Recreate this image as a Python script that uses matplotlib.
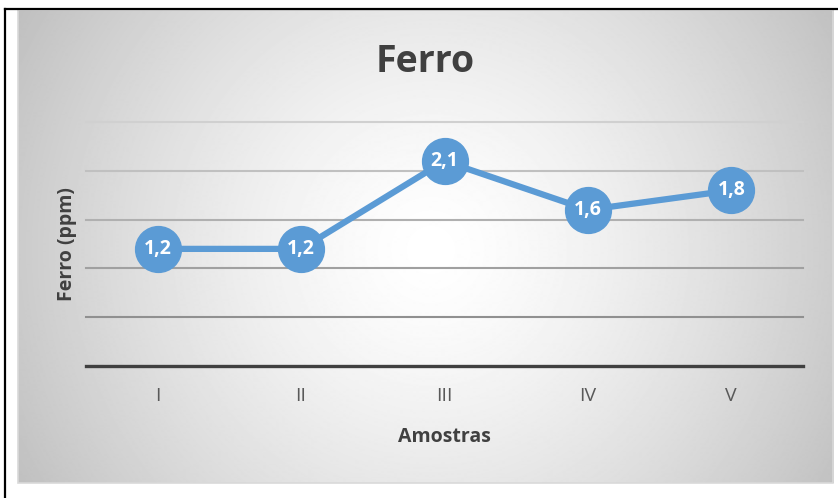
import numpy as np
import matplotlib
matplotlib.use('Agg')
import matplotlib.pyplot as plt
from matplotlib.patches import Rectangle
from matplotlib.lines import Line2D

# data
amostras = ['I', 'II', 'III', 'IV', 'V']
ferro = [1.2, 1.2, 2.1, 1.6, 1.8]
rotulos = ['1,2', '1,2', '2,1', '1,6', '1,8']

FONT = 'Open Sans'
W, H = 838, 498
fig = plt.figure(figsize=(W / 100, H / 100), dpi=100)
fig.patch.set_facecolor('white')

# chart area with radial gradient (pixel coords from top-left)
cx0, cy0, cx1, cy1 = 18, 10, 833, 483
bg = fig.add_axes([cx0 / W, (H - cy1) / H, (cx1 - cx0) / W, (cy1 - cy0) / H])
nx, ny = cx1 - cx0, cy1 - cy0
xx, yy = np.meshgrid(np.arange(nx) + cx0, np.arange(ny) + cy0)
r = np.hypot(xx - 430, yy - 250)
r = r / r.max()
grad = 1 - 0.25 * r ** 1.4
bg.imshow(grad, cmap='gray', vmin=0, vmax=1, aspect='auto', interpolation='bilinear')
bg.axis('off')
fig.patches.append(Rectangle((cx0 / W, (H - cy1) / H), (cx1 - cx0) / W, (cy1 - cy0) / H,
                             transform=fig.transFigure, fill=False,
                             edgecolor='#d9d9d9', linewidth=1.2))

# table-cell borders
fig.lines.append(Line2D([5 / W, 1], [1 - 9 / H, 1 - 9 / H], transform=fig.transFigure,
                        color='black', linewidth=1.6))
fig.lines.append(Line2D([5 / W, 5 / W], [0, 1 - 9 / H], transform=fig.transFigure,
                        color='black', linewidth=1.6))

# plot area
px0, px1, py_top, py_bot = 86, 803, 122, 366
ax = fig.add_axes([px0 / W, (H - py_bot) / H, (px1 - px0) / W, (py_bot - py_top) / H])
ax.set_facecolor('none')
ax.set_xlim(-0.5, len(amostras) - 0.5)
ax.set_ylim(0, 2.5)

grid_vals = [0.5, 1.0, 1.5, 2.0, 2.5]
grid_cols = ['#909090', '#a0a0a0', '#b0b0b0', '#c0c0c0', '#d0d0d0']
for g, c in zip(grid_vals, grid_cols):
    ax.axhline(g, color=c, linewidth=1.5, zorder=1, clip_on=False)

for s in ['top', 'right', 'left']:
    ax.spines[s].set_visible(False)
ax.spines['bottom'].set_color('#404040')
ax.spines['bottom'].set_linewidth(2.4)
ax.spines['bottom'].set_zorder(2)

x = np.arange(len(amostras))
ax.plot(x, ferro, color='#5B9BD5', linewidth=4.5, marker='o', markersize=33,
        markerfacecolor='#5B9BD5', markeredgecolor='#5B9BD5', zorder=3, clip_on=False)
for xi, yi, t in zip(x, ferro, rotulos):
    ax.text(xi, yi, t, ha='center', va='center', color='white', fontsize=14,
            fontweight='bold', fontfamily=FONT, zorder=4)

ax.set_yticks([])
ax.set_xticks(x)
ax.set_xticklabels(amostras, fontfamily=FONT, fontsize=14, color='#595959')
ax.tick_params(axis='x', length=0, pad=15)

ax.set_xlabel('Amostras', fontfamily=FONT, fontsize=14, fontweight='bold', color='#404040',
              va='center')
ax.xaxis.set_label_coords(0.5, (py_bot - 437) / (py_bot - py_top))
ax.set_ylabel('Ferro (ppm)', fontfamily=FONT, fontsize=14, fontweight='bold', color='#404040',
              va='center')
ax.yaxis.set_label_coords((67 - px0) / (px1 - px0), (py_bot - 244) / (py_bot - py_top))

fig.text(425 / W, 1 - 62 / H, 'Ferro', ha='center', va='center', fontfamily=FONT,
         fontsize=27, fontweight='bold', color='#404040')

fig.savefig('out.png', dpi=100)
